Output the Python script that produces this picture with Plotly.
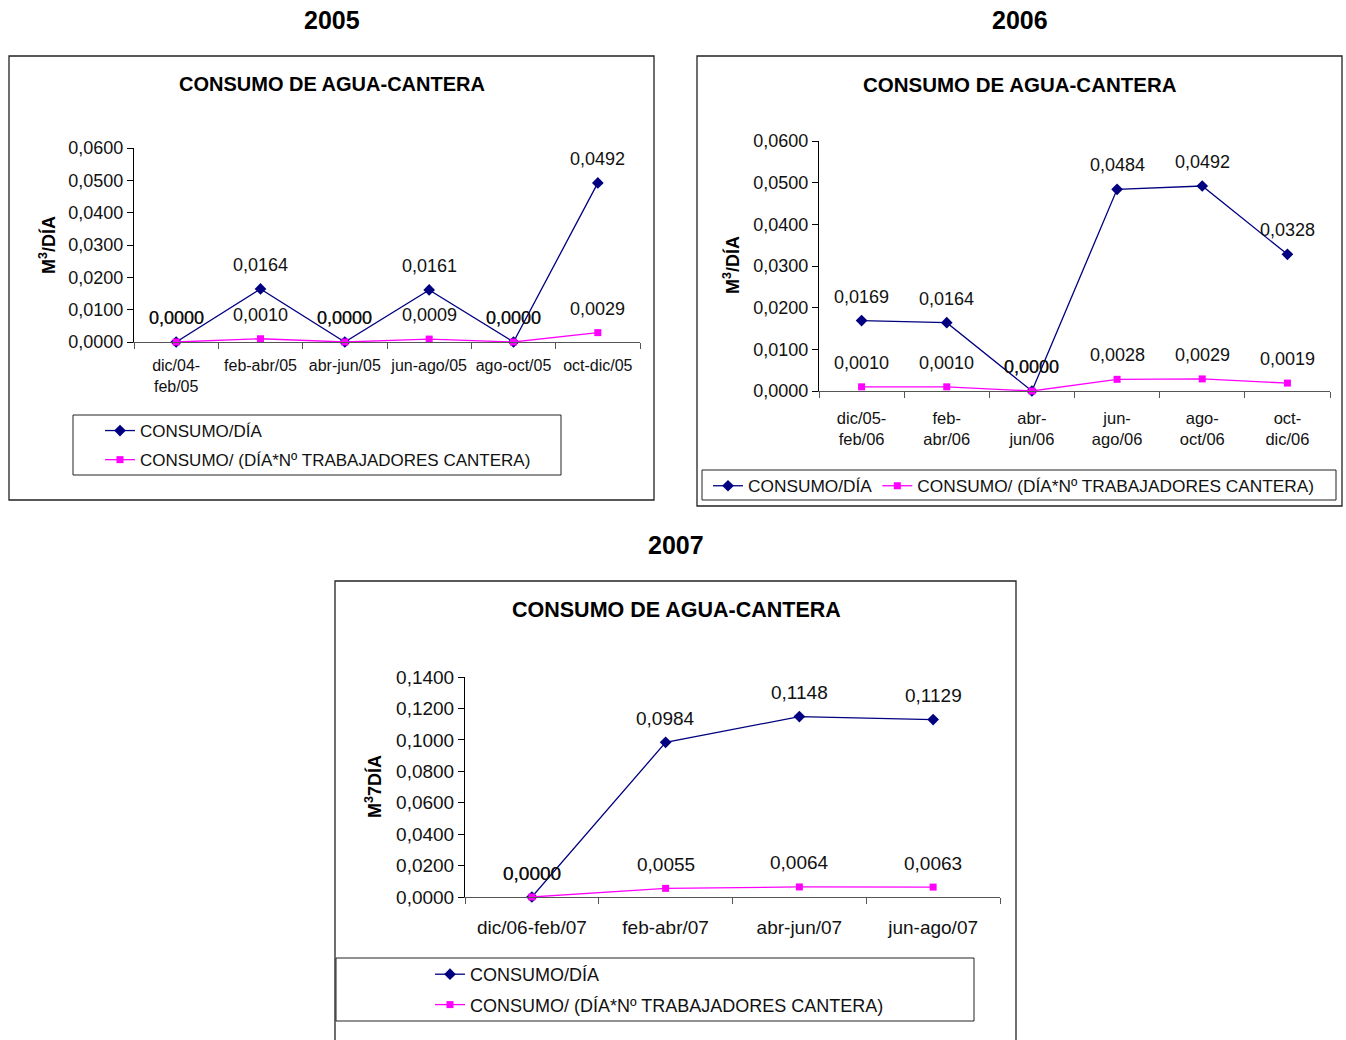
import plotly.graph_objects as go

# ---------------- data ----------------
years = ["2005", "2006", "2007"]
chart_title = "CONSUMO DE AGUA-CANTERA"
series_names = ["CONSUMO/DÍA", "CONSUMO/ (DÍA*Nº TRABAJADORES CANTERA)"]

cats_2005 = ["dic/04-<br>feb/05", "feb-abr/05", "abr-jun/05", "jun-ago/05", "ago-oct/05", "oct-dic/05"]
dia_2005 = [0.0000, 0.0164, 0.0000, 0.0161, 0.0000, 0.0492]
trab_2005 = [0.0000, 0.0010, 0.0000, 0.0009, 0.0000, 0.0029]

cats_2006 = ["dic/05-<br>feb/06", "feb-<br>abr/06", "abr-<br>jun/06", "jun-<br>ago/06", "ago-<br>oct/06", "oct-<br>dic/06"]
dia_2006 = [0.0169, 0.0164, 0.0000, 0.0484, 0.0492, 0.0328]
trab_2006 = [0.0010, 0.0010, 0.0000, 0.0028, 0.0029, 0.0019]

cats_2007 = ["dic/06-feb/07", "feb-abr/07", "abr-jun/07", "jun-ago/07"]
dia_2007 = [0.0000, 0.0984, 0.1148, 0.1129]
trab_2007 = [0.0000, 0.0055, 0.0064, 0.0063]

ylabels = ["M<sup>3</sup>/DÍA", "M<sup>3</sup>/DÍA", "M<sup>3</sup>7DÍA"]

# ---------------- layout helpers ----------------
W, H = 1346, 1040
FONT = "Liberation Sans, Arial, sans-serif"
NAVY = "#000080"
MAG = "#FF00FF"


def px(x):
    return x / W


def py(y):
    return 1 - y / H


fmt = lambda v: f"{v:.4f}".replace(".", ",")

fig = go.Figure()

charts = [
    dict(cats=cats_2005, dia=dia_2005, trab=trab_2005, xd=(134, 640), yd=(148, 342),
         yr=0.06, dt=0.01, box=(9, 56, 654, 500), cx=332, ylx=47, yly=245,
         standoff=9, legend="legend", leg=dict(x=100, y=413, orientation="v"),
         fs_num=18, fs_cat=16, fs_leg=17, fs_title=20, gap=4),
    dict(cats=cats_2006, dia=dia_2006, trab=trab_2006, xd=(819, 1330), yd=(141, 391),
         yr=0.06, dt=0.01, box=(697, 56, 1342, 506), cx=1020, ylx=731, yly=265,
         standoff=12, legend="legend2", leg=dict(x=708, y=468, orientation="h"),
         fs_num=18, fs_cat=16.5, fs_leg=17.3, fs_title=20.5, gap=0),
    dict(cats=cats_2007, dia=dia_2007, trab=trab_2007, xd=(465, 1000), yd=(677, 897),
         yr=0.14, dt=0.02, box=(335, 581, 1016, 1060), cx=676, ylx=373, yly=787,
         standoff=13, legend="legend3", leg=dict(x=430, y=956, orientation="v"),
         fs_num=19, fs_cat=19, fs_leg=18, fs_title=21.5, gap=4),
]

top_y = [20, 20, 545]
title_y = [84, 84, 610]
legend_boxes = [(73, 415, 561, 475), (702, 470, 1336, 500), (336, 958, 974, 1021)]

shapes = []
annotations = []
for i, c in enumerate(charts):
    n = "" if i == 0 else str(i + 1)
    xa, ya = "x" + n, "y" + n
    fig.add_trace(go.Scatter(
        x=c["cats"], y=c["dia"], mode="lines+markers", name=series_names[0],
        line=dict(color=NAVY, width=1.3), marker=dict(symbol="diamond", size=9, color=NAVY),
        xaxis=xa, yaxis=ya, cliponaxis=False, legend=c["legend"], legendgroup=f"a{i}"))
    fig.add_trace(go.Scatter(
        x=c["cats"], y=c["trab"], mode="lines+markers", name=series_names[1],
        line=dict(color=MAG, width=1.3), marker=dict(symbol="square", size=7, color=MAG),
        xaxis=xa, yaxis=ya, cliponaxis=False, legend=c["legend"], legendgroup=f"b{i}"))

    xk = "xaxis" + n
    yk = "yaxis" + n
    fig.update_layout(**{
        xk: dict(domain=[px(c["xd"][0]), px(c["xd"][1])], anchor=ya, type="category",
                 range=[-0.5, len(c["cats"]) - 0.5], tickson="boundaries", tickangle=0,
                 ticks="outside", ticklen=6, tickcolor="#555", showline=True,
                 linecolor="#555", linewidth=1, showgrid=False, zeroline=False,
                 tickfont=dict(family=FONT, size=c["fs_cat"], color="#111"),
                 ticklabelstandoff=c["standoff"], fixedrange=True, automargin=False),
        yk: dict(domain=[py(c["yd"][1]), py(c["yd"][0])], anchor=xa,
                 range=[0, c["yr"]], dtick=c["dt"], tick0=0, tickformat=".4f",
                 ticks="outside", ticklen=6, tickcolor="#000", showline=True,
                 linecolor="#000", linewidth=1, showgrid=False, zeroline=False,
                 tickfont=dict(family=FONT, size=c["fs_num"], color="#111"), fixedrange=True,
                 automargin=False),
    })

    # data labels
    for vals in (c["trab"], c["dia"]):
        for cat, v in zip(c["cats"], vals):
            annotations.append(dict(x=cat, y=v, xref=xa, yref=ya, text=fmt(v), showarrow=False,
                                    xanchor="center", yanchor="middle", yshift=24,
                                    font=dict(family=FONT, size=c["fs_num"], color="#111")))

    # titles
    annotations.append(dict(x=px(c["cx"]), y=py(top_y[i]), xref="paper", yref="paper",
                            text="<b>" + years[i] + "</b>", showarrow=False,
                            xanchor="center", yanchor="middle",
                            font=dict(family=FONT, size=25, color="#000")))
    annotations.append(dict(x=px(c["cx"]), y=py(title_y[i]), xref="paper", yref="paper",
                            text="<b>" + chart_title + "</b>", showarrow=False,
                            xanchor="center", yanchor="middle",
                            font=dict(family=FONT, size=c["fs_title"], color="#000")))
    annotations.append(dict(x=px(c["ylx"]), y=py(c["yly"]), xref="paper", yref="paper",
                            text="<b>" + ylabels[i] + "</b>", showarrow=False, textangle=-90,
                            xanchor="center", yanchor="middle",
                            font=dict(family=FONT, size=18, color="#000")))

    b = c["box"]
    shapes.append(dict(type="rect", xref="paper", yref="paper", x0=px(b[0]), y0=py(b[1]),
                       x1=px(b[2]), y1=py(b[3]), line=dict(color="#222", width=1.3)))
    lb = legend_boxes[i]
    shapes.append(dict(type="rect", xref="paper", yref="paper", x0=px(lb[0]), y0=py(lb[1]),
                       x1=px(lb[2]), y1=py(lb[3]), line=dict(color="#222", width=1)))

for i, c in enumerate(charts):
    lg = c["leg"]
    fig.update_layout(**{c["legend"]: dict(
        x=px(lg["x"]), y=py(lg["y"]), orientation=lg["orientation"],
        bgcolor="rgba(0,0,0,0)", borderwidth=0, xanchor="left", yanchor="top",
        font=dict(family=FONT, size=c["fs_leg"], color="#111"), itemclick=False,
        itemdoubleclick=False, tracegroupgap=c["gap"], traceorder="grouped")})

fig.update_layout(
    width=W, height=H, autosize=False,
    margin=dict(l=0, r=0, t=0, b=0, pad=0, autoexpand=False),
    paper_bgcolor="white", plot_bgcolor="white",
    separators=",.", showlegend=True,
    shapes=shapes, annotations=annotations,
    font=dict(family=FONT),
)

fig.write_html("out.html")
